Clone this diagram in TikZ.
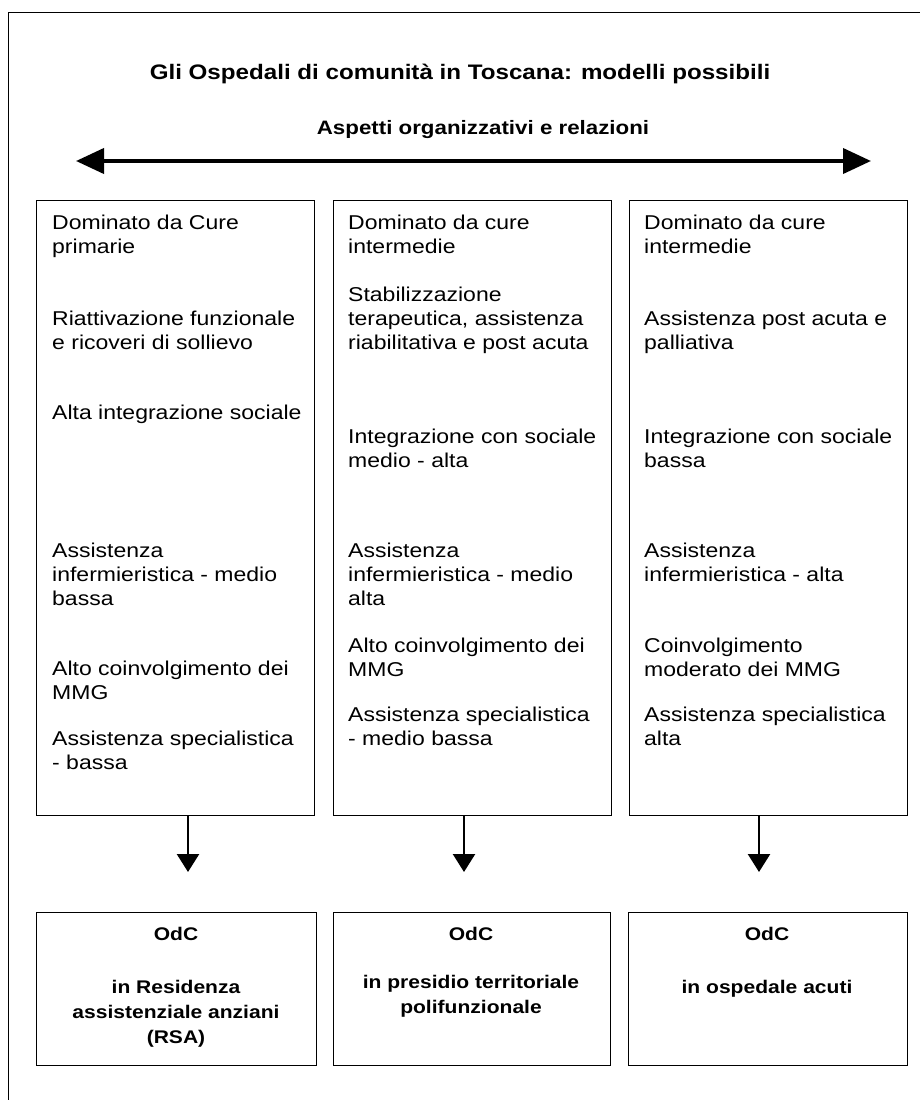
\documentclass[tikz,border=0pt]{standalone}
\usepackage{fontspec}
\setmainfont{Liberation Sans}[FakeStretch=1.15]
\usetikzlibrary{arrows.meta}
\newcommand\linestrut{\rule{0pt}{16pt}}
\begin{document}
\begin{tikzpicture}[x=1pt,y=-1pt,
  every node/.style={inner sep=0pt},
  framing/.style={line width=0.9pt},
  colbox/.style={draw, line width=1.2pt, anchor=north west, minimum width=278pt, minimum height=615pt},
  odcbox/.style={draw, line width=1.2pt, anchor=north west, minimum width=280pt, minimum height=153pt},
  item/.style={anchor=north west, align=left, font={\fontsize{20}{24}\selectfont}},
  heading/.style={anchor=base, font={\fontsize{21}{24}\selectfont\bfseries}},
  subheading/.style={anchor=base, font={\fontsize{19.4}{24}\selectfont\bfseries}},
  odctext/.style={anchor=north, align=center, font={\fontsize{18.3}{25}\selectfont\bfseries}},
  bothway/.style={line width=4pt, {Triangle[length=28pt,width=25pt]}-{Triangle[length=28pt,width=25pt]}},
  downarrow/.style={line width=2.5pt, -{Triangle[length=18pt,width=22pt]}}
]
\path[use as bounding box] (0,0) rectangle (920,1100);

% page frame, running off the right and bottom edges
\draw[framing] (8,1110) -- (8,12) -- (930,12);

% headings
\node[heading] (title) at (460,79) {Gli Ospedali di comunità in Toscana: modelli possibili};
\node[subheading] (aspects) at (483,134) {Aspetti organizzativi e relazioni};

% two-headed axis
\coordinate (leftend) at (76,161);
\coordinate (rightend) at (871,161);
\draw[bothway] (leftend) -- (rightend);

% three description columns
\node[colbox] (c1) at (36,200) {};
\node[colbox] (c2) at (333,200) {};
\node[colbox] (c3) at (629,200) {};

% column 1
\node[item] (c1a) at (52,213) {\linestrut Dominato da Cure\\primarie};
\node[item] (c1b) at (52,309) {\linestrut Riattivazione funzionale\\e ricoveri di sollievo};
\node[item] (c1c) at (52,403) {\linestrut Alta integrazione sociale};
\node[item] (c1d) at (52,541) {\linestrut Assistenza\\infermieristica - medio\\bassa};
\node[item] (c1e) at (52,659) {\linestrut Alto coinvolgimento dei\\MMG};
\node[item] (c1f) at (52,729) {\linestrut Assistenza specialistica\\- bassa};

% column 2
\node[item] (c2a) at (348,213) {\linestrut Dominato da cure\\intermedie};
\node[item] (c2b) at (348,285) {\linestrut Stabilizzazione\\terapeutica, assistenza\\riabilitativa e post acuta};
\node[item] (c2c) at (348,427) {\linestrut Integrazione con sociale\\medio - alta};
\node[item] (c2d) at (348,541) {\linestrut Assistenza\\infermieristica - medio\\alta};
\node[item] (c2e) at (348,636) {\linestrut Alto coinvolgimento dei\\MMG};
\node[item] (c2f) at (348,705) {\linestrut Assistenza specialistica\\- medio bassa};

% column 3
\node[item] (c3a) at (644,213) {\linestrut Dominato da cure\\intermedie};
\node[item] (c3b) at (644,309) {\linestrut Assistenza post acuta e\\palliativa};
\node[item] (c3c) at (644,427) {\linestrut Integrazione con sociale\\bassa};
\node[item] (c3d) at (644,541) {\linestrut Assistenza\\infermieristica - alta};
\node[item] (c3e) at (644,636) {\linestrut Coinvolgimento\\moderato dei MMG};
\node[item] (c3f) at (644,705) {\linestrut Assistenza specialistica\\alta};

% resulting settings
\node[odcbox] (o1) at (36,912) {};
\node[odcbox, minimum width=277pt] (o2) at (333,912) {};
\node[odcbox, minimum width=279pt] (o3) at (628,912) {};

\node[odctext] (o1t) at (176,924) {\linestrut OdC};
\node[odctext] (o2t) at (471,924) {\linestrut OdC};
\node[odctext] (o3t) at (767,924) {\linestrut OdC};
\node[odctext] (o1d) at (176,977) {\linestrut in Residenza\\assistenziale anziani\\(RSA)};
\node[odctext] (o2d) at (471,972) {\linestrut in presidio territoriale\\polifunzionale};
\node[odctext] (o3d) at (767,977) {\linestrut in ospedale acuti};

% arrows from each column down to its setting
\coordinate (tip1) at (188,872);
\coordinate (tip2) at (464,872);
\coordinate (tip3) at (759,872);
\draw[downarrow] (tip1 |- c1.south) -- (tip1);
\draw[downarrow] (tip2 |- c2.south) -- (tip2);
\draw[downarrow] (tip3 |- c3.south) -- (tip3);
\end{tikzpicture}
\end{document}
